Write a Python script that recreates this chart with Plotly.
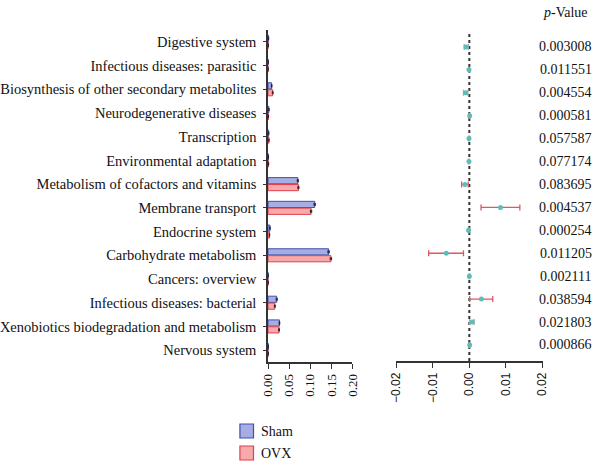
import plotly.graph_objects as go

categories = [
    "Digestive system",
    "Infectious diseases: parasitic",
    "Biosynthesis of other secondary metabolites",
    "Neurodegenerative diseases",
    "Transcription",
    "Environmental adaptation",
    "Metabolism of cofactors and vitamins",
    "Membrane transport",
    "Endocrine system",
    "Carbohydrate metabolism",
    "Cancers: overview",
    "Infectious diseases: bacterial",
    "Xenobiotics biodegradation and metabolism",
    "Nervous system",
]
sham_mean = [0.0012, 0.0003, 0.0085, 0.0020, 0.0015, 0.0010, 0.0705, 0.1105, 0.0045, 0.1435, 0.0002, 0.0205, 0.0270, 0.0008]
sham_err = [0.0003, 0.0001, 0.0008, 0.0002, 0.0002, 0.0002, 0.0012, 0.0015, 0.0004, 0.0016, 0.0001, 0.0012, 0.0008, 0.0002]
ovx_mean = [0.0005, 0.0002, 0.0110, 0.0010, 0.0020, 0.0012, 0.0720, 0.1020, 0.0035, 0.1490, 0.0002, 0.0160, 0.0260, 0.0005]
ovx_err = [0.0003, 0.0001, 0.0009, 0.0002, 0.0002, 0.0002, 0.0012, 0.0015, 0.0004, 0.0016, 0.0001, 0.0010, 0.0008, 0.0002]

diff = [-0.0009, -0.0001, -0.0010, 0.0001, -0.0001, -0.0001, -0.0012, 0.0085, -0.0002, -0.0063, 0.0000, 0.0033, 0.0008, 0.0001]
ci_low = [-0.0014, -0.0002, -0.0016, 0.0000, -0.0002, -0.0002, -0.0021, 0.0032, -0.0003, -0.0111, -0.0001, 0.0001, 0.0001, 0.0000]
ci_high = [-0.0003, 0.0000, -0.0004, 0.0002, 0.0000, 0.0000, -0.0003, 0.0138, -0.0001, -0.0016, 0.0001, 0.0064, 0.0013, 0.0002]

p_values = ["0.003008", "0.011551", "0.004554", "0.000581", "0.057587", "0.077174", "0.083695",
            "0.004537", "0.000254", "0.011205", "0.002111", "0.038594", "0.021803", "0.000866"]

left_ticks = [0.00, 0.05, 0.10, 0.15, 0.20]
right_ticks = [-0.02, -0.01, 0.00, 0.01, 0.02]

W, H = 600, 462
SERIF = "Liberation Serif, Times New Roman, serif"
SANS = "Liberation Sans, Arial, sans-serif"


def px(x):
    return x / W


def py(y):
    return 1 - y / H


idx = list(range(len(categories)))

fig = go.Figure()
fig.add_trace(go.Bar(
    y=idx, x=sham_mean, orientation="h", name="Sham",
    marker=dict(color="#A7ACE2", line=dict(color="#3F50AE", width=1)),
    error_x=dict(type="data", array=sham_err, color="#222", thickness=1, width=1.5),
    xaxis="x", yaxis="y", showlegend=False,
))
fig.add_trace(go.Bar(
    y=idx, x=ovx_mean, orientation="h", name="OVX",
    marker=dict(color="#F7A9AB", line=dict(color="#E0414B", width=1)),
    error_x=dict(type="data", array=ovx_err, color="#222", thickness=1, width=1.5),
    xaxis="x", yaxis="y", showlegend=False,
))

# split CI colour: wide intervals red, narrow grey
wide = [(h - l) > 0.0015 for l, h in zip(ci_low, ci_high)]
for flag, col in [(False, "#A9A9A9"), (True, "#E0575F")]:
    sel = [i for i in idx if wide[i] == flag]
    fig.add_trace(go.Scatter(
        y=sel, x=[diff[i] for i in sel], mode="markers",
        marker=dict(color="#5CBDB9", size=5),
        error_x=dict(type="data", symmetric=False,
                     array=[ci_high[i] - diff[i] for i in sel],
                     arrayminus=[diff[i] - ci_low[i] for i in sel],
                     color=col, thickness=1.3, width=3),
        xaxis="x2", yaxis="y2", showlegend=False,
    ))

# dotted zero line
fig.add_shape(type="line", xref="x2", yref="y2 domain", x0=0, x1=0, y0=0, y1=1,
              line=dict(color="#333", width=2, dash="dot"), layer="below")

# p-values
for i, p in enumerate(p_values):
    fig.add_annotation(xref="paper", yref="y2", x=px(572), y=i, text=p, showarrow=False,
                       font=dict(family=SERIF, size=14, color="#111"), xanchor="center", yanchor="middle")
fig.add_annotation(xref="paper", yref="paper", x=px(572), y=py(12), text="<i>p</i>-Value",
                   showarrow=False, font=dict(family=SERIF, size=14, color="#111"),
                   xanchor="center", yanchor="middle")

# manual legend
for name, fill, border, yc in [("Sham", "#A7ACE2", "#3F50AE", 431), ("OVX", "#F7A9AB", "#E0414B", 453)]:
    fig.add_shape(type="rect", xref="paper", yref="paper",
                  x0=px(236), x1=px(250), y0=py(yc - 7), y1=py(yc + 7),
                  fillcolor=fill, line=dict(color=border, width=1.2))
    fig.add_annotation(xref="paper", yref="paper", x=px(256), y=py(yc), text=name, showarrow=False,
                       font=dict(family=SERIF, size=14, color="#111"), xanchor="left", yanchor="middle")

fig.update_layout(
    width=W, height=H, margin=dict(l=0, r=0, t=0, b=0),
    paper_bgcolor="white", plot_bgcolor="white",
    barmode="group", bargap=0.42, bargroupgap=0.1,
    xaxis=dict(domain=[px(265), px(352)], range=[0, 0.2], tickvals=left_ticks, tickformat=".2f",
               tickangle=-90, showline=True, linecolor="#333", linewidth=1.5, ticks="outside",
               ticklen=5, tickcolor="#333", showgrid=False, zeroline=False,
               tickfont=dict(family=SERIF, size=13, color="#111"), anchor="y"),
    yaxis=dict(domain=[py(362), py(30)], range=[13.5, -0.5], tickvals=idx, ticktext=categories,
               showline=True, linecolor="#333", linewidth=1.5, ticks="outside", ticklen=3,
               tickcolor="#333", showgrid=False, zeroline=False, ticklabelstandoff=4,
               tickfont=dict(family=SERIF, size=14.5, color="#111"), anchor="x"),
    xaxis2=dict(domain=[px(397), px(548)], range=[-0.02, 0.02], tickvals=right_ticks, tickformat=".2f",
                tickangle=-90, showline=True, linecolor="#333", linewidth=1.5, ticks="outside",
                ticklen=5, tickcolor="#333", showgrid=False, zeroline=False,
                tickfont=dict(family=SANS, size=12, color="#111"), anchor="y2"),
    yaxis2=dict(domain=[py(361), py(32.7)], range=[13.7, -0.62], showticklabels=False,
                showline=False, showgrid=False, zeroline=False, ticks="", anchor="x2"),
)

fig.write_html("out.html")
